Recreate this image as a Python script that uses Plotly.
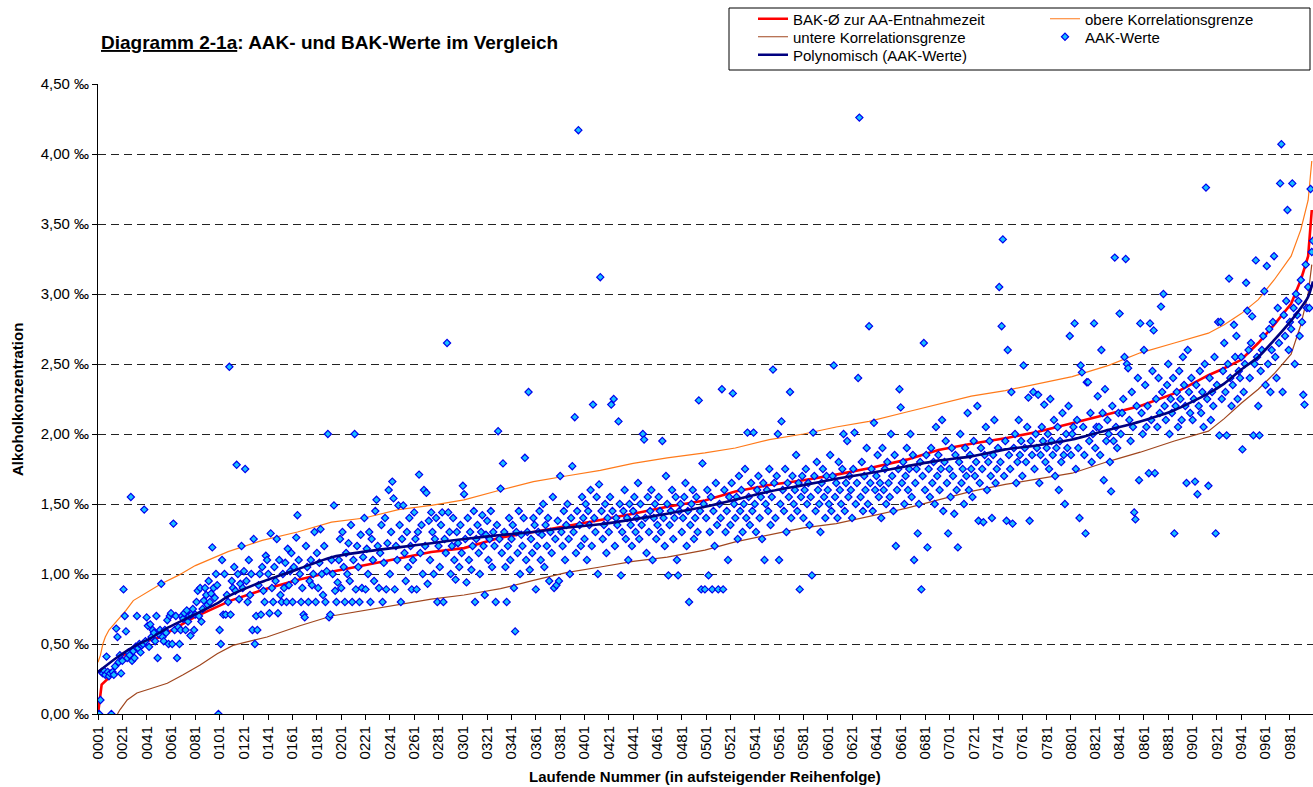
import plotly.graph_objects as go

# ---------------- data ----------------
aak_values = [
    0.00, 0.00, 0.10, 0.30, 0.29, 0.31, 0.28, 0.41, 0.30, 0.27, 0.29, 0.00, 0.30, 0.28, 0.34, 0.61, 0.55, 0.37, 0.42, 0.29,
    0.38, 0.89, 0.70, 0.59, 0.40, 0.44, 0.42, 1.55, 0.38, 0.45, 0.40, 0.48, 0.70, 0.47, 0.50, 0.44, 0.49, 0.50, 1.46, 0.52,
    0.69, 0.63, 0.48, 0.64, 0.55, 0.60, 0.58, 0.52, 0.70, 0.40, 0.57, 0.60, 0.93, 0.55, 0.52, 0.60, 0.58, 0.67, 0.50, 0.70,
    0.72, 0.50, 1.36, 0.60, 0.70, 0.40, 0.62, 0.50, 0.60, 0.70, 0.68, 0.72, 0.60, 0.74, 0.66, 0.70, 0.56, 0.71, 0.75, 0.60,
    0.71, 0.80, 0.88, 0.70, 0.90, 0.66, 0.75, 0.81, 0.90, 0.85, 0.78, 0.95, 0.80, 0.86, 1.19, 0.90, 0.83, 1.00, 0.92, 0.00,
    0.60, 0.50, 1.10, 0.71, 1.00, 0.71, 0.85, 0.80, 2.48, 0.71, 0.95, 0.90, 1.05, 0.88, 1.78, 1.00, 0.82, 0.93, 1.20, 0.90,
    1.02, 1.75, 0.95, 0.80, 1.10, 0.85, 1.00, 0.60, 1.25, 0.50, 0.70, 0.60, 0.92, 1.00, 0.71, 1.05, 0.88, 0.80, 1.13, 1.10,
    1.00, 0.72, 1.29, 0.90, 0.80, 1.05, 0.95, 1.25, 0.72, 1.10, 0.85, 0.80, 1.00, 0.90, 1.08, 0.80, 1.18, 0.92, 1.02, 1.15,
    0.80, 1.05, 0.95, 1.26, 1.42, 1.10, 1.00, 0.80, 0.90, 0.71, 0.69, 1.20, 1.05, 0.80, 0.95, 1.10, 0.92, 1.00, 1.30, 0.80,
    1.15, 0.90, 1.08, 1.32, 1.00, 0.85, 1.20, 0.80, 1.02, 2.00, 0.69, 0.71, 1.10, 1.00, 1.49, 0.88, 0.80, 0.94, 1.10, 1.25,
    0.90, 1.30, 1.05, 0.80, 1.15, 1.00, 1.22, 0.95, 1.35, 0.80, 1.10, 2.00, 0.89, 1.20, 1.05, 0.80, 1.28, 0.90, 1.12, 1.40,
    0.89, 1.18, 1.00, 1.30, 0.80, 1.25, 1.10, 0.95, 1.45, 1.53, 1.20, 0.90, 1.15, 1.35, 0.80, 1.08, 1.40, 0.89, 1.22, 1.60,
    1.00, 1.30, 1.66, 1.54, 0.89, 1.20, 1.10, 1.49, 1.35, 0.80, 1.25, 1.49, 1.15, 0.95, 1.30, 1.05, 1.40, 1.20, 0.89, 1.10,
    1.44, 1.25, 0.89, 1.30, 1.71, 1.15, 1.35, 1.00, 1.60, 1.20, 1.58, 0.93, 1.38, 1.10, 1.44, 1.30, 1.00, 1.25, 1.40, 0.80,
    1.20, 1.05, 1.35, 1.44, 0.80, 1.25, 1.15, 2.65, 1.44, 1.30, 1.00, 1.20, 1.40, 1.10, 0.96, 1.30, 1.22, 1.05, 1.35, 1.15,
    1.63, 1.57, 1.25, 0.94, 1.40, 1.10, 1.30, 1.03, 1.20, 1.45, 0.80, 1.25, 1.35, 1.15, 1.00, 1.30, 1.42, 1.20, 0.85, 1.28,
    1.38, 1.10, 1.25, 1.45, 1.05, 1.30, 1.20, 0.80, 1.35, 2.02, 1.25, 1.61, 1.15, 1.79, 1.30, 1.05, 0.80, 1.20, 1.40, 1.10,
    1.25, 1.35, 0.90, 0.59, 1.30, 1.15, 1.45, 1.00, 1.28, 1.20, 1.40, 1.83, 1.10, 1.30, 2.30, 1.03, 1.25, 1.15, 1.40, 1.35,
    0.89, 1.20, 1.30, 1.45, 1.10, 1.28, 1.50, 1.05, 1.35, 1.20, 1.40, 0.95, 1.30, 1.15, 1.55, 0.90, 1.25, 0.92, 1.38, 0.95,
    1.70, 1.30, 1.20, 1.45, 1.10, 1.35, 1.50, 1.25, 1.00, 1.40, 1.77, 1.30, 2.12, 1.15, 1.45, 4.17, 1.35, 1.20, 1.55, 1.40,
    1.25, 1.50, 1.10, 1.45, 1.35, 1.60, 1.20, 2.21, 1.40, 1.30, 1.55, 1.00, 1.64, 3.12, 1.45, 1.25, 1.35, 1.50, 1.15, 1.40,
    1.30, 1.55, 2.21, 1.45, 2.25, 1.20, 1.40, 1.35, 2.09, 1.50, 0.99, 1.30, 1.45, 1.60, 1.25, 1.40, 1.10, 1.50, 1.35, 1.20,
    1.45, 1.55, 1.30, 1.40, 1.65, 1.25, 1.50, 1.35, 2.00, 1.96, 1.40, 1.15, 1.55, 1.30, 1.45, 1.60, 1.10, 1.40, 1.50, 1.25,
    1.35, 1.55, 1.45, 1.30, 1.95, 1.40, 1.20, 1.70, 1.50, 0.99, 1.35, 1.45, 1.60, 1.25, 1.40, 1.55, 1.10, 0.99, 1.45, 1.50,
    1.30, 1.40, 1.55, 1.65, 1.20, 1.45, 0.80, 1.35, 1.50, 1.60, 1.25, 1.40, 1.55, 1.30, 2.24, 1.45, 0.89, 1.79, 1.50, 0.89,
    1.40, 1.60, 0.99, 1.30, 1.55, 0.89, 1.45, 1.20, 1.65, 1.35, 0.89, 1.50, 1.40, 2.32, 0.89, 1.60, 1.30, 1.45, 1.10, 1.55,
    1.35, 1.65, 2.29, 1.50, 1.40, 1.55, 1.25, 1.70, 1.45, 1.60, 1.30, 1.50, 1.75, 1.40, 2.01, 1.55, 1.35, 1.65, 1.45, 2.01,
    1.50, 1.30, 1.60, 1.70, 1.40, 1.55, 1.25, 1.65, 1.10, 1.50, 1.60, 1.45, 1.75, 1.35, 1.55, 2.46, 1.65, 1.40, 1.70, 2.00,
    1.10, 1.50, 2.09, 1.60, 1.45, 1.75, 1.30, 1.65, 1.55, 2.30, 1.40, 1.70, 1.50, 1.60, 1.85, 1.45, 1.65, 0.89, 1.55, 1.70,
    1.40, 1.60, 1.75, 1.50, 1.65, 1.35, 1.55, 0.99, 2.01, 1.70, 1.45, 1.80, 1.60, 1.50, 1.30, 1.65, 1.75, 1.55, 1.40, 1.70,
    1.60, 1.50, 1.85, 1.45, 1.70, 2.49, 1.55, 1.65, 1.40, 1.80, 1.60, 1.50, 1.75, 2.00, 1.45, 1.65, 1.95, 1.55, 1.70, 1.60,
    1.40, 1.75, 2.01, 1.50, 1.65, 2.40, 4.26, 1.55, 1.80, 1.45, 1.70, 1.60, 1.90, 1.50, 2.77, 1.65, 1.75, 1.45, 2.08, 1.60,
    1.70, 1.85, 1.55, 1.65, 1.40, 1.90, 1.60, 1.75, 1.50, 1.80, 1.65, 1.55, 2.00, 1.70, 1.45, 1.85, 1.20, 1.60, 1.75, 2.32,
    2.19, 1.65, 1.80, 1.50, 1.70, 1.90, 1.60, 1.75, 2.00, 1.55, 1.85, 1.10, 1.65, 1.75, 1.29, 1.50, 1.80, 0.89, 1.70, 2.65,
    1.60, 1.85, 1.19, 1.75, 1.55, 1.90, 1.65, 1.80, 1.50, 2.05, 1.70, 1.85, 1.60, 1.75, 2.10, 1.45, 1.80, 1.95, 1.65, 1.29,
    1.75, 1.55, 1.90, 1.70, 1.43, 1.85, 1.60, 1.19, 1.80, 2.00, 1.65, 1.75, 1.50, 1.90, 1.70, 2.15, 1.60, 1.85, 1.75, 1.55,
    1.95, 1.70, 1.80, 2.20, 1.38, 1.65, 1.90, 1.75, 1.37, 1.85, 2.05, 1.60, 1.80, 1.95, 1.70, 1.40, 1.85, 2.10, 1.65, 1.75,
    1.90, 3.05, 1.80, 2.77, 3.39, 1.70, 1.95, 1.38, 2.60, 1.85, 1.75, 2.30, 1.36, 1.90, 2.00, 1.65, 1.80, 2.10, 1.85, 1.95,
    1.70, 2.49, 1.90, 1.80, 2.05, 2.26, 1.38, 1.95, 1.85, 2.30, 1.75, 2.00, 1.90, 2.28, 1.65, 1.85, 2.05, 1.95, 2.21, 1.80,
    1.90, 2.00, 1.75, 2.25, 1.95, 1.85, 2.10, 1.70, 1.90, 2.05, 1.60, 1.95, 1.80, 2.15, 1.85, 1.50, 2.00, 1.90, 2.20, 2.70,
    1.85, 2.00, 2.05, 2.79, 1.75, 2.10, 1.90, 1.40, 2.49, 2.44, 2.05, 1.85, 1.29, 2.37, 2.37, 1.95, 2.15, 1.80, 2.00, 2.79,
    1.90, 2.05, 2.27, 2.05, 1.85, 2.60, 2.15, 1.67, 2.32, 1.95, 2.10, 2.00, 1.80, 1.59, 2.20, 1.95, 3.26, 2.05, 1.90, 2.15,
    2.86, 2.00, 2.15, 2.25, 2.55, 3.25, 2.50, 2.47, 2.10, 1.95, 2.30, 2.05, 1.44, 1.39, 2.20, 2.40, 1.67, 2.79, 2.15, 2.00,
    2.60, 2.35, 2.05, 2.20, 1.72, 2.79, 2.10, 2.45, 2.74, 1.72, 2.25, 2.05, 2.40, 2.15, 2.91, 2.30, 3.00, 2.20, 2.10, 2.35,
    2.50, 2.00, 2.25, 2.15, 2.40, 1.29, 2.20, 2.30, 2.05, 2.45, 2.25, 2.10, 2.55, 2.35, 2.20, 1.65, 2.60, 2.30, 2.15, 2.40,
    2.10, 2.25, 1.66, 2.35, 1.57, 2.20, 2.45, 2.15, 2.30, 2.05, 2.50, 3.76, 2.25, 1.63, 2.40, 2.10, 2.30, 2.20, 2.55, 1.29,
    2.35, 2.80, 1.99, 2.80, 2.25, 2.45, 2.65, 2.30, 1.99, 2.50, 3.11, 2.40, 2.20, 2.35, 2.78, 2.55, 2.70, 2.25, 2.45, 2.40,
    2.55, 1.89, 2.30, 2.50, 3.08, 2.88, 2.60, 2.40, 2.65, 2.84, 1.99, 2.50, 3.24, 2.55, 2.20, 1.99, 2.45, 2.60, 2.70, 3.02,
    2.35, 3.20, 2.50, 2.75, 2.30, 2.60, 2.80, 3.27, 2.55, 2.40, 2.90, 2.65, 3.79, 4.07, 2.30, 2.85, 2.70, 2.95, 3.60, 2.60,
    2.80, 2.75, 3.79, 2.90, 2.50, 3.00, 2.85, 2.95, 2.70, 3.10, 2.80, 2.28, 2.21, 3.21, 2.90, 3.05, 2.90, 3.75, 3.30, 3.38,
]
aak_index = list(range(1, len(aak_values) + 1))

bak_index = [1, 4, 10, 20, 30, 40, 53, 60, 80, 100, 110, 136, 165, 193, 220, 248, 275, 302, 332, 359, 386, 414,
             441, 469, 500, 525, 553, 581, 608, 635, 666, 692, 719, 747, 774, 802, 832, 858, 886, 914, 927, 941,
             955, 968, 982, 990, 996, 999]
bak_values = [0.00, 0.21, 0.26, 0.41, 0.47, 0.52, 0.55, 0.59, 0.69, 0.77, 0.81, 0.885, 0.957, 1.016, 1.064, 1.11,
              1.157, 1.185, 1.26, 1.30, 1.34, 1.386, 1.43, 1.48, 1.525, 1.59, 1.636, 1.67, 1.71, 1.755, 1.817,
              1.886, 1.93, 1.97, 2.016, 2.076, 2.142, 2.20, 2.29, 2.42, 2.47, 2.53, 2.65, 2.78, 2.93, 3.10, 3.27, 3.60]

upper_index = [1, 3, 5, 7, 10, 24, 30, 53, 67, 81, 108, 136, 165, 193, 220, 248, 275, 302, 332, 359, 386, 414,
               441, 469, 500, 525, 553, 581, 608, 635, 666, 692, 719, 747, 774, 802, 832, 858, 886, 914, 927, 941,
               955, 968, 982, 990, 996, 999]
upper_values = [0.37, 0.42, 0.50, 0.55, 0.60, 0.74, 0.81, 0.93, 0.99, 1.06, 1.16, 1.24, 1.30, 1.37, 1.40, 1.46,
                1.49, 1.53, 1.60, 1.66, 1.70, 1.74, 1.79, 1.83, 1.865, 1.90, 1.96, 2.00, 2.05, 2.09, 2.157, 2.21,
                2.27, 2.31, 2.36, 2.41, 2.49, 2.58, 2.65, 2.72, 2.78, 2.86, 2.96, 3.10, 3.27, 3.46, 3.67, 3.95]

lower_index = [17, 19, 25, 33, 44, 58, 71, 85, 99, 112, 140, 167, 193, 220, 248, 275, 302, 332, 359, 386, 414,
               441, 469, 500, 525, 553, 581, 608, 635, 666, 692, 719, 747, 774, 802, 832, 858, 886, 914, 927, 941,
               955, 968, 982, 990, 996, 999]
lower_values = [0.00, 0.03, 0.10, 0.15, 0.18, 0.22, 0.28, 0.35, 0.43, 0.49, 0.55, 0.63, 0.70, 0.74, 0.78, 0.82,
                0.85, 0.895, 0.955, 1.01, 1.05, 1.09, 1.12, 1.17, 1.23, 1.28, 1.33, 1.36, 1.41, 1.47, 1.53, 1.59,
                1.64, 1.68, 1.72, 1.805, 1.87, 1.95, 2.02, 2.11, 2.22, 2.32, 2.43, 2.57, 2.78, 3.00, 3.21]

poly_index = [1, 16, 30, 44, 57, 71, 85, 99, 108, 136, 167, 193, 220, 248, 275, 302, 334, 359, 386, 414, 441, 469,
              500, 525, 553, 581, 608, 635, 666, 692, 719, 747, 774, 802, 832, 858, 886, 914, 927, 941, 955, 968,
              982, 996, 1000]
poly_values = [0.30, 0.40, 0.48, 0.54, 0.61, 0.67, 0.73, 0.79, 0.84, 0.945, 1.04, 1.12, 1.16, 1.19, 1.22, 1.25,
               1.28, 1.30, 1.33, 1.355, 1.39, 1.43, 1.48, 1.53, 1.59, 1.635, 1.68, 1.72, 1.77, 1.81, 1.84, 1.89,
               1.92, 1.96, 2.03, 2.09, 2.17, 2.29, 2.36, 2.46, 2.55, 2.67, 2.81, 2.98, 3.09]

x_tick_values = list(range(1, 1000, 20))
x_tick_labels = [f"{v:04d}" for v in x_tick_values]
y_tick_values = [0.0, 0.5, 1.0, 1.5, 2.0, 2.5, 3.0, 3.5, 4.0, 4.5]
y_tick_labels = ["0,00 ‰", "0,50 ‰", "1,00 ‰", "1,50 ‰", "2,00 ‰", "2,50 ‰", "3,00 ‰", "3,50 ‰", "4,00 ‰", "4,50 ‰"]

FONT = "Arial, 'Liberation Sans', sans-serif"

W, H = 1313, 787
L, R, T, B = 98, 0, 84, 73
pw, ph = W - L - R, H - T - B


def px_x(px):  # screen x -> paper
    return (px - L) / pw


def px_y(py):  # screen y -> paper
    return (H - B - py) / ph


fig = go.Figure()
fig.add_trace(go.Scatter(x=bak_index, y=bak_values, mode="lines", name="BAK-Ø zur AA-Entnahmezeit",
                         line=dict(color="#FF0000", width=2.6), legend="legend"))
fig.add_trace(go.Scatter(x=upper_index, y=upper_values, mode="lines", name="obere Korrelationsgrenze",
                         line=dict(color="#FF7A1A", width=1.2), legend="legend2"))
fig.add_trace(go.Scatter(x=lower_index, y=lower_values, mode="lines", name="untere Korrelationsgrenze",
                         line=dict(color="#A0461E", width=1.2), legend="legend3"))
fig.add_trace(go.Scatter(x=aak_index, y=aak_values, mode="markers", name="AAK-Werte",
                         marker=dict(symbol="diamond", size=5.5, color="#18C0FF",
                                     line=dict(color="#0000EE", width=1.2)), legend="legend4"))
fig.add_trace(go.Scatter(x=poly_index, y=poly_values, mode="lines", name="Polynomisch (AAK-Werte)",
                         line=dict(color="#000080", width=2.6, shape="spline", smoothing=0.6), legend="legend5"))

LEG_FONT = dict(family=FONT, size=15, color="black")


def leg(xpx, ypx):
    return dict(x=px_x(xpx), y=px_y(ypx), xanchor="left", yanchor="middle", bgcolor="rgba(0,0,0,0)",
                borderwidth=0, font=LEG_FONT, orientation="v")


fig.update_layout(
    width=W, height=H,
    margin=dict(l=L, r=R, t=T, b=B, autoexpand=False),
    paper_bgcolor="white", plot_bgcolor="white",
    font=dict(family=FONT, size=15, color="black"),
    showlegend=True,
    legend=leg(753, 19),
    legend2=leg(1045, 19),
    legend3=leg(753, 37),
    legend4=leg(1045, 37),
    legend5=leg(753, 55),
    xaxis=dict(range=[1, 1000], tickmode="array", tickvals=x_tick_values, ticktext=x_tick_labels,
               tickangle=-90, ticks="outside", ticklen=5, tickcolor="black", showline=True,
               linecolor="black", linewidth=1, showgrid=False, zeroline=False,
               tickfont=dict(family=FONT, size=15, color="black")),
    yaxis=dict(range=[0, 4.5], tickmode="array", tickvals=y_tick_values, ticktext=y_tick_labels,
               ticks="outside", ticklen=5, tickcolor="black", showline=True, linecolor="black",
               linewidth=1, showgrid=True, gridcolor="#222222", gridwidth=1, griddash="8px,5px",
               zeroline=False, tickfont=dict(family=FONT, size=15, color="black")),
    shapes=[dict(type="rect", xref="paper", yref="paper", x0=px_x(729), x1=px_x(1310),
                 y0=px_y(70), y1=px_y(8), line=dict(color="black", width=1), fillcolor="rgba(0,0,0,0)",
                 layer="above")],
    annotations=[
        dict(text="<b><u>Diagramm 2-1a</u>: AAK- und BAK-Werte im Vergleich</b>", xref="paper", yref="paper",
             x=px_x(99), y=px_y(42), xanchor="left", yanchor="middle", showarrow=False,
             font=dict(family=FONT, size=19, color="black")),
        dict(text="<b>Laufende Nummer (in aufsteigender Reihenfolge)</b>", xref="paper", yref="paper",
             x=px_x(705), y=px_y(776), xanchor="center", yanchor="middle", showarrow=False,
             font=dict(family=FONT, size=15, color="black")),
        dict(text="<b>Alkoholkonzentration</b>", xref="paper", yref="paper", textangle=-90,
             x=px_x(17), y=px_y(400), xanchor="center", yanchor="middle", showarrow=False,
             font=dict(family=FONT, size=15, color="black")),
    ],
)

fig.write_html("out.html", config={"displayModeBar": False},
               post_script="document.body.style.margin='0';document.body.style.overflow='hidden';")
